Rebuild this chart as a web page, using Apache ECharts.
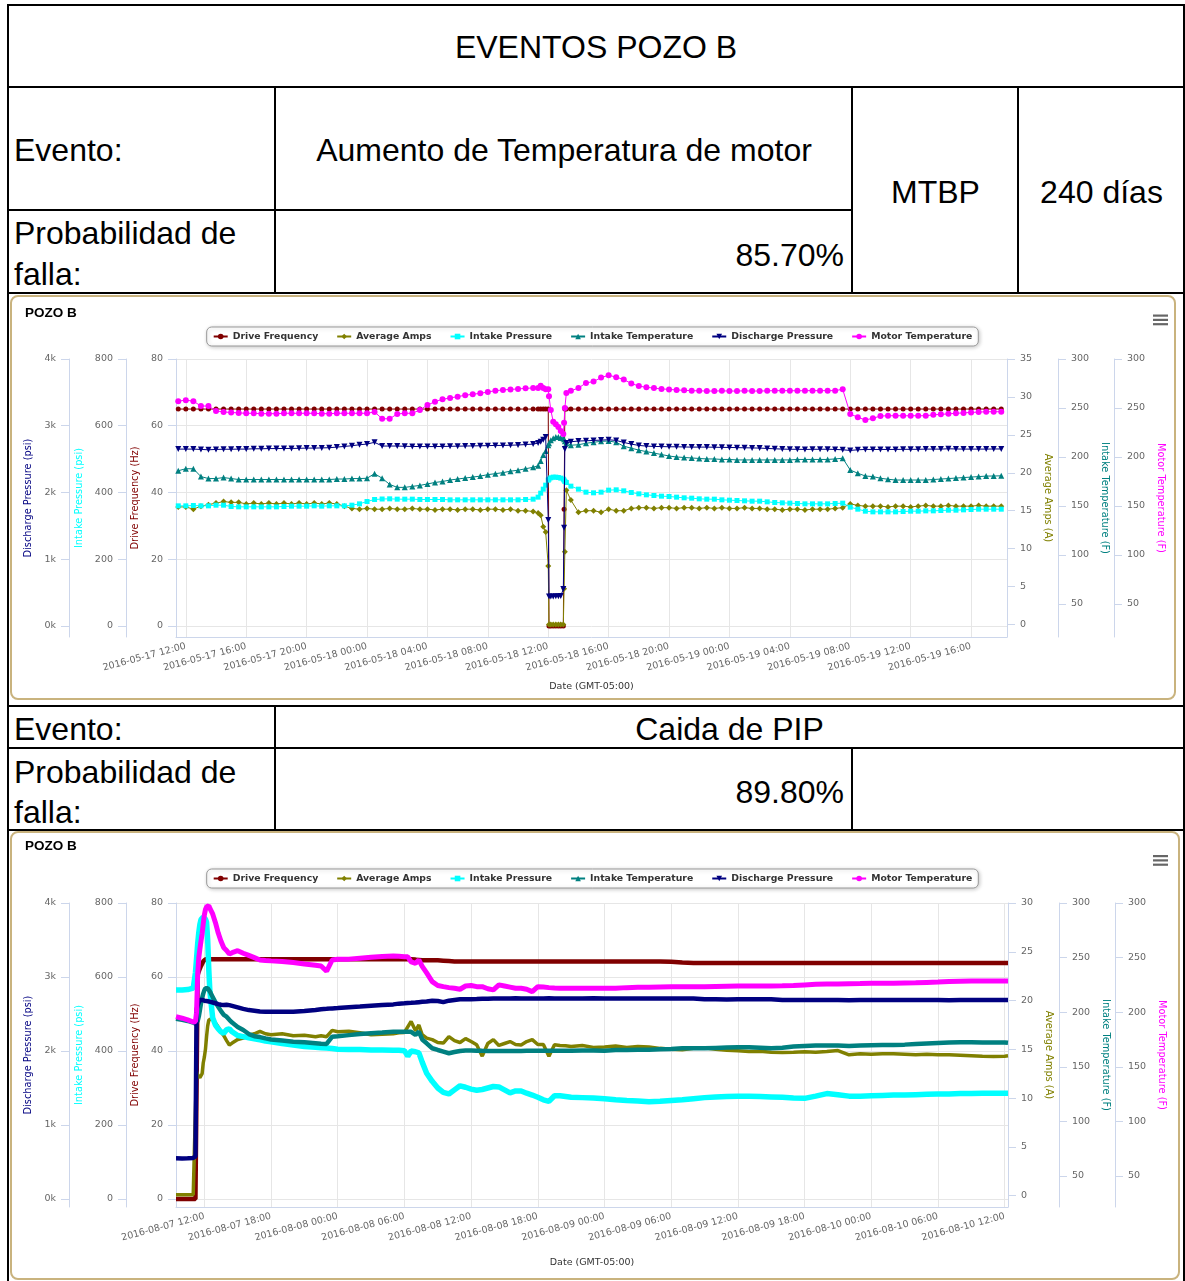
<!DOCTYPE html>
<html>
<head>
<meta charset="utf-8">
<title>Eventos Pozo B</title>
<script src="https://cdn.jsdelivr.net/npm/echarts@6/dist/echarts.min.js"></script>
<style>
  body { margin: 0; background: #fff; }
  #page { position: relative; width: 1185px; height: 1281px; overflow: hidden;
          font-family: "Liberation Sans", Arial, sans-serif; color: #000; background: #fff; }
  .r { position: absolute; background: #000; }
  .t { position: absolute; font-size: 32px; line-height: 32px; white-space: nowrap; }
  .frame { position: absolute; border: 2px solid #c9b37e; border-radius: 8px; box-sizing: border-box; }
  .chart { position: absolute; left: 0; width: 1185px; }
</style>
</head>
<body>
<div id="page">
  <!-- table rules -->
  <div class="r" style="left:7px;top:4px;width:1178px;height:2px"></div>
  <div class="r" style="left:7px;top:86px;width:1178px;height:2px"></div>
  <div class="r" style="left:7px;top:209px;width:846px;height:2px"></div>
  <div class="r" style="left:7px;top:292px;width:1178px;height:2px"></div>
  <div class="r" style="left:7px;top:705px;width:1178px;height:2px"></div>
  <div class="r" style="left:7px;top:747px;width:1178px;height:2px"></div>
  <div class="r" style="left:7px;top:829px;width:1178px;height:2px"></div>
  <div class="r" style="left:7px;top:4px;width:2px;height:1277px"></div>
  <div class="r" style="left:1183px;top:4px;width:2px;height:1277px"></div>
  <div class="r" style="left:274px;top:86px;width:2px;height:208px"></div>
  <div class="r" style="left:851px;top:86px;width:2px;height:208px"></div>
  <div class="r" style="left:1017px;top:86px;width:2px;height:208px"></div>
  <div class="r" style="left:274px;top:705px;width:2px;height:126px"></div>
  <div class="r" style="left:851px;top:747px;width:2px;height:84px"></div>

  <!-- table text -->
  <div class="t" style="left:7px;width:1178px;top:31px;text-align:center">EVENTOS POZO B</div>
  <div class="t" style="left:14px;top:134px">Evento:</div>
  <div class="t" style="left:276px;width:576px;top:134px;text-align:center">Aumento de Temperatura de motor</div>
  <div class="t" style="left:853px;width:165px;top:176px;text-align:center">MTBP</div>
  <div class="t" style="left:1019px;width:165px;top:176px;text-align:center">240 días</div>
  <div class="t" style="left:14px;top:217px">Probabilidad de</div>
  <div class="t" style="left:14px;top:258px">falla:</div>
  <div class="t" style="left:276px;width:568px;top:239px;text-align:right">85.70%</div>
  <div class="t" style="left:14px;top:713px">Evento:</div>
  <div class="t" style="left:276px;width:907px;top:713px;text-align:center">Caida de PIP</div>
  <div class="t" style="left:14px;top:756px">Probabilidad de</div>
  <div class="t" style="left:14px;top:796px">falla:</div>
  <div class="t" style="left:276px;width:568px;top:776px;text-align:right">89.80%</div>

  <!-- chart frames and chart hosts -->
  <div class="frame" style="left:10px;top:295px;width:1166px;height:405px"></div>
  <div class="chart" id="c1" style="top:296px;height:408px"></div>
  <div class="frame" style="left:10px;top:831px;width:1170px;height:449px"></div>
  <div class="chart" id="c2" style="top:832px;height:449px"></div>
</div>
<script>
// ---------- shared series definitions ----------
const SERIES_NAMES = ['Drive Frequency', 'Average Amps', 'Intake Pressure',
                      'Intake Temperature', 'Discharge Pressure', 'Motor Temperature'];
const SERIES_COLORS = ['#800000', '#808000', '#00ffff', '#008080', '#000080', '#ff00ff'];
const SERIES_SYMBOLS = ['circle', 'diamond', 'rect', 'triangle', 'path://M0,0L10,0L5,10Z', 'circle'];

// tick labels shared by both charts
const TICKS_DISCHARGE = [0, 1000, 2000, 3000, 4000];
const TICKS_INTAKE_P = [0, 200, 400, 600, 800];
const TICKS_FREQ = [0, 20, 40, 60, 80];
const TICKS_AMPS_1 = [0, 5, 10, 15, 20, 25, 30, 35];
const TICKS_AMPS_2 = [0, 5, 10, 15, 20, 25, 30];
const TICKS_TEMP = [50, 100, 150, 200, 250, 300];

// ---------- Event 1: hours counted from 2016-05-17 00:00 ----------
const TIME_1 = [
  11.5, 12, 12.5, 13, 13.5, 14, 14.5, 15, 15.5, 16, 16.5, 17,
  17.5, 18, 18.5, 19, 19.5, 20, 20.5, 21, 21.5, 22, 22.5, 23,
  23.5, 24, 24.5, 25, 25.5, 26, 26.5, 27, 27.5, 28, 28.5, 29,
  29.5, 30, 30.5, 31, 31.5, 32, 32.5, 33, 33.5, 34, 34.5, 35,
  35.33, 35.5, 35.67, 35.83, 36, 36.05, 36.17, 36.33, 36.5, 36.67, 36.83, 37, 37.05, 37.1, 37.2,
  37.5, 38, 38.5, 39, 39.5, 40, 40.5, 41, 41.5, 42, 42.5, 43,
  43.5, 44, 44.5, 45, 45.5, 46, 46.5, 47, 47.5, 48, 48.5, 49,
  49.5, 50, 50.5, 51, 51.5, 52, 52.5, 53, 53.5, 54, 54.5, 55,
  55.5, 56, 56.5, 57, 57.5, 58, 58.5, 59, 59.5, 60, 60.5, 61,
  61.5, 62, 62.5, 63, 63.5, 64, 64.5, 65, 65.5, 66
];
const DRIVE_FREQ_1 = [
  65, 65, 65, 65, 65, 65, 65, 65, 65, 65, 65, 65,
  65, 65, 65, 65, 65, 65, 65, 65, 65, 65, 65, 65,
  65, 65, 65, 65, 65, 65, 65, 65, 65, 65, 65, 65,
  65, 65, 65, 65, 65, 65, 65, 65, 65, 65, 65, 65,
  65, 65, 65, 65, 65, 0, 0, 0, 0, 0, 0, 0, 35, 65, 65,
  65, 65, 65, 65, 65, 65, 65, 65, 65, 65, 65, 65,
  65, 65, 65, 65, 65, 65, 65, 65, 65, 65, 65, 65,
  65, 65, 65, 65, 65, 65, 65, 65, 65, 65, 65, 65,
  65, 65, 65, 65, 65, 65, 65, 65, 65, 65, 65, 65,
  65, 65, 65, 65, 65, 65, 65, 65, 65, 65
];
const AVG_AMPS_1 = [
  15.5, 15.5, 15.2, 15.6, 15.8, 16.0, 16.2, 16.1, 16.1, 15.9, 16.0, 15.9,
  16.0, 15.9, 16.0, 15.9, 16.0, 15.9, 16.0, 15.9, 16.0, 15.9, 15.6, 15.3,
  15.2, 15.3, 15.2, 15.2, 15.3, 15.2, 15.2, 15.3, 15.2, 15.2, 15.1, 15.2,
  15.2, 15.1, 15.2, 15.2, 15.1, 15.2, 15.2, 15.1, 15.2, 15.0, 15.0, 14.9,
  14.7, 14.4, 12.9, 12.2, 7.7, 0, 0, 0, 0, 0, 0, 0, 4.7, 9.6, 17.7,
  16.4, 14.8, 15.0, 15.0, 14.8, 15.2, 15.0, 15.0, 15.3, 15.4, 15.4, 15.3,
  15.4, 15.4, 15.3, 15.4, 15.4, 15.3, 15.4, 15.3, 15.4, 15.3, 15.3, 15.4,
  15.3, 15.3, 15.2, 15.2, 15.1, 15.2, 15.2, 15.1, 15.2, 15.2, 15.2, 15.3,
  15.4, 15.9, 15.7, 15.6, 15.6, 15.6, 15.5, 15.6, 15.6, 15.5, 15.6, 15.7,
  15.6, 15.6, 15.7, 15.6, 15.6, 15.6, 15.7, 15.6, 15.6, 15.6
];
const INTAKE_PRESSURE_1 = [
  360, 360, 361, 360, 360, 362, 362, 358, 357, 357, 357, 357,
  357, 357, 358, 359, 359, 359, 360, 359, 360, 360, 360, 362,
  366, 373, 379, 380.5, 381, 380, 380, 380, 379, 379, 379, 379,
  378, 378, 378, 378, 378, 378, 378, 378, 378, 378, 379, 380,
  386, 398, 410, 422, 437, 440, 444, 446, 446, 445, 443, 440, 437, 433, 430,
  419, 410, 401, 399, 401, 407, 408, 405, 400, 396, 393, 391,
  389, 388, 386, 384, 383, 381, 380, 380, 378, 377, 376, 375,
  374, 374, 372, 370, 369, 368, 367, 366, 366, 366, 366, 367,
  368, 356, 350, 344, 342, 342, 342, 342, 343, 344, 344, 345,
  345, 346, 347, 347, 348, 349, 350, 350, 350, 350
];
const INTAKE_TEMP_1 = [
  186, 188, 188, 180, 178, 178, 179, 178, 177, 177, 177, 177,
  177, 177, 177, 177, 177, 177, 177, 177, 177, 177.5, 177.5, 178,
  178, 178.3, 183, 178.3, 172, 169, 169, 170, 171, 172.5, 174, 175,
  176.5, 177.5, 178.5, 179.5, 180.5, 182, 183, 184, 185.5, 186.5, 188, 189.5,
  191, 196, 202, 206, 212, 214, 217, 219, 220.4, 220.4, 219.5, 219, 218, 216, 214,
  212, 212.5, 214, 215, 216, 216.3, 215, 211, 209, 207, 205.5, 204,
  202.5, 201, 200, 199.5, 199, 198.5, 198, 198, 197.5, 197.5, 197, 197,
  197, 197, 197, 197, 197, 197, 197.5, 197.5, 197.5, 197.5, 197.5, 198,
  198.7, 186.7, 183.4, 180.6, 180, 178.3, 177.3, 176.5, 176.5, 176.5, 176.5, 176.5,
  177, 177.5, 178, 178.5, 179, 179.5, 180, 180.5, 180.6, 180.8
];
const DISCHARGE_PRESSURE_1 = [
  2650, 2650, 2650, 2645, 2640, 2645, 2648, 2648, 2650, 2650, 2655, 2655,
  2658, 2658, 2660, 2660, 2662, 2665, 2665, 2668, 2671, 2680, 2690, 2701,
  2715, 2726, 2752, 2696, 2696, 2696, 2692, 2690, 2688, 2688, 2688, 2690,
  2692, 2694, 2696, 2698, 2700, 2702, 2705, 2705, 2708, 2712, 2718, 2725,
  2740, 2760, 2790, 2831, 1588, 440, 440, 443, 445, 447, 449, 554, 1473, 2650, 2740,
  2760, 2771, 2775, 2780, 2785, 2790, 2780, 2750, 2725, 2705, 2695, 2690,
  2688, 2685, 2685, 2682, 2680, 2680, 2680, 2678, 2676, 2675, 2672, 2670,
  2668, 2665, 2660, 2655, 2650, 2648, 2647, 2645, 2647, 2648, 2648, 2645,
  2640, 2630, 2640, 2645, 2645, 2645, 2645, 2645, 2647, 2647, 2647, 2650,
  2650, 2650, 2655, 2652, 2650, 2650, 2650, 2650, 2652, 2652
];
const MOTOR_TEMP_1 = [
  257, 258, 257, 252, 252, 247, 246, 245.4, 245, 244.6, 244.6, 244.2,
  244.2, 244.2, 244.6, 244.6, 244.6, 244.6, 244.6, 244.2, 244.2, 244.6, 244.6, 244.6,
  244.6, 244.6, 246, 239, 239, 243.9, 244.6, 244.6, 248, 253, 256.4, 258.9,
  260.2, 261.6, 263, 264, 265, 266.3, 267.7, 268.4, 269, 269.4, 270.1, 270.4,
  270.4, 272.8, 270.5, 269.1, 269.1, 262, 248, 236, 233.5, 230.6, 226.5, 223.5, 235, 250, 265.3,
  267.5, 270.4, 275.5, 277, 281, 283.4, 281.5, 279, 275, 272.4, 271.1, 270.3,
  269.5, 269, 268.4, 268, 267.7, 267.5, 267.3, 267.3, 267.5, 267.3, 267.3, 267.5,
  267.3, 267.3, 267.5, 267.7, 267.7, 267.7, 267.5, 267.7, 267.7, 267.7, 267.7, 267.7,
  269.1, 243.9, 240.5, 237.8, 239.5, 241.8, 242.1, 242.1, 242.1, 242.1, 242.1, 242.1,
  243, 243.5, 244, 244.6, 245, 245.5, 245.8, 246.2, 246.2, 246.2
];
const DATE_TICKS_1 = [12, 16, 20, 24, 28, 32, 36, 40, 44, 48, 52, 56, 60, 64];

// ---------- Event 2: hours counted from 2016-08-07 00:00 ----------
const TIME_2 = [
  9.45, 10, 10.5, 11, 11.2,
  11.3, 11.4, 11.5, 11.6, 11.7, 11.8, 11.9, 12, 12.1, 12.2, 12.3, 12.4, 12.5,
  12.75, 13, 13.25, 13.5, 13.75, 14, 14.25, 14.5,
  15, 15.5, 16, 16.5, 17, 17.5, 18,
  19, 20, 21, 22,
  22.5, 23, 23.5, 24,
  25, 26, 27, 28, 29,
  29.5, 30, 30.3, 30.6, 31, 31.3, 31.6, 32,
  32.5, 33, 33.5, 34, 34.5, 35, 35.5, 36, 36.5, 37,
  37.5, 38, 38.5, 39, 39.5, 40, 40.5, 41, 41.5, 42,
  42.5, 43, 43.5, 44, 44.5, 45,
  46, 47, 48, 49, 50, 51, 52, 53, 54, 55,
  56, 57, 58, 59, 60, 61, 62, 63, 64, 65,
  66, 67, 68, 69, 70, 71, 72, 73, 74, 75,
  76, 77, 78, 79, 80, 81, 82, 83, 84,
  84.3
];
const DRIVE_FREQ_2 = [
  0, 0, 0, 0, 0,
  0, 60.5, 61.5, 62.3, 63, 63.6, 64.2, 64.6, 64.8, 64.8, 64.8, 64.8, 64.8,
  64.8, 64.8, 64.8, 64.8, 64.8, 64.8, 64.8, 64.8,
  64.8, 64.8, 64.8, 64.8, 64.8, 64.8, 64.8,
  64.8, 64.8, 64.8, 64.8,
  64.8, 64.8, 64.8, 64.8,
  64.8, 64.8, 64.8, 64.8, 64.8,
  64.8, 64.8, 64.8, 64.8, 64.7, 64.6, 64.5, 64.5,
  64.5, 64.5, 64.4, 64.3, 64.2, 64.2, 64.2, 64.2, 64.2, 64.2,
  64.2, 64.2, 64.2, 64.2, 64.2, 64.2, 64.2, 64.2, 64.2, 64.2,
  64.2, 64.2, 64.2, 64.2, 64.2, 64.2,
  64.2, 64.2, 64.2, 64.2, 64.2, 64.2, 64.2, 64.2, 64.1, 63.9,
  63.8, 63.8, 63.8, 63.8, 63.8, 63.8, 63.8, 63.8, 63.8, 63.8,
  63.8, 63.8, 63.8, 63.8, 63.8, 63.8, 63.8, 63.8, 63.8, 63.8,
  63.8, 63.8, 63.8, 63.8, 63.8, 63.8, 63.8, 63.8, 63.8,
  63.8
];
const AVG_AMPS_2 = [
  0.1, 0.1, 0.1, 0.1, 8.8,
  12.7, 12.4, 12.2, 12.1, 12.05, 12.5, 13.6, 14.2, 15.0, 16.3, 17.4, 18.0, 18.1,
  18.2, 17.7, 17.3, 16.8, 16.4, 15.9, 15.45, 15.64,
  16.0, 16.15, 16.45, 16.6, 16.85, 16.6, 16.5,
  16.6, 16.4, 16.45, 16.3,
  16.4, 16.3, 16.94, 16.8,
  16.85, 16.7, 16.5, 16.55, 16.6,
  16.7, 16.73, 17.3, 17.86, 16.9, 17.5, 16.5, 16.15,
  16.0, 15.7, 15.64, 16.3, 15.9, 15.7, 16.1, 15.8, 15.47, 14.3,
  15.6, 16.0, 15.4, 15.6, 15.8, 15.5, 15.45, 15.8, 16.0, 15.5,
  15.5, 14.3, 15.47, 15.4, 15.36, 15.3,
  15.4, 15.2, 15.25, 15.35, 15.2, 15.3, 15.25, 15.1, 15.0, 14.95,
  15.1, 15.15, 15.0, 14.9, 14.85, 14.78, 14.8, 14.7, 14.68, 14.7,
  14.75, 14.7, 14.78, 14.88, 14.44, 14.55, 14.5, 14.55, 14.54, 14.5,
  14.45, 14.5, 14.45, 14.44, 14.4, 14.35, 14.3, 14.27, 14.3,
  14.34
];
const INTAKE_PRESSURE_2 = [
  565, 565, 566, 570, 612,
  650, 690, 720, 742, 755, 760, 762, 760, 756, 748, 700, 620, 560,
  490, 470, 460, 452, 448, 458, 460, 452,
  442, 439, 436, 433, 430, 427, 425,
  420, 416, 412, 410,
  409, 408, 407, 405,
  404, 404, 403, 403, 402,
  402, 401, 386, 400, 398, 395, 370, 340,
  318, 300, 288, 284, 295, 306, 302, 297, 294, 296,
  300, 304, 303, 295, 287, 292, 292, 286, 281, 275,
  268, 264, 279, 279, 277, 275,
  274, 273, 271, 268, 266, 265, 263, 264, 266, 268,
  271, 274, 276, 277, 278, 278, 277, 276, 275, 273,
  272, 278, 285, 282, 278, 278, 279, 280, 281, 281,
  282, 283, 284, 284, 285, 285, 286, 286, 286,
  286
];
const INTAKE_TEMP_2 = [
  194, 193, 192, 190.5, 189.5,
  190, 192, 196, 202, 208, 213, 217, 220, 222, 222.5, 222, 221, 219,
  214, 209, 205, 201, 197.5, 195.9, 193, 190.5,
  186.5, 183.7, 180, 178, 177.2, 176, 175,
  174, 173, 172.5, 171.5,
  171, 170.9, 177.6, 178,
  179, 180, 180.7, 181.3, 182,
  182.2, 182.2, 182, 182, 179.2, 182.2, 175, 171.5,
  167, 165.4, 163.9, 162.4, 163.5, 164.5, 165, 165, 164.8, 164.6,
  164.5, 164.4, 164.4, 164.4, 164.4, 164.5, 164.5, 164.6, 164.6, 164.8,
  164.8, 164.8, 164.8, 164.8, 164.8, 164.8,
  165, 165, 164.8, 165.4, 165.4, 165.6, 165.6, 166, 166.4, 167,
  167, 167, 167.3, 167.6, 167.9, 167.9, 167.5, 167, 167.5, 168.5,
  169, 169.4, 169.4, 169.4, 169, 169.4, 169.8, 170, 170, 170.3,
  170.8, 171.3, 171.8, 172.2, 172.5, 172.5, 172.3, 172.3, 172.3,
  172
];
const DISCHARGE_PRESSURE_2 = [
  550, 548, 550, 555, 575,
  2560, 2620, 2660, 2688, 2700, 2690, 2688, 2680, 2680, 2675, 2670, 2670, 2665,
  2655, 2645, 2634, 2625, 2621, 2625, 2620, 2610,
  2590, 2570, 2553, 2545, 2535, 2530, 2530,
  2530, 2532, 2540, 2555,
  2565, 2570, 2576, 2580,
  2590, 2600, 2612, 2621, 2630,
  2640, 2645, 2650, 2652, 2655, 2660, 2665, 2670,
  2680, 2675, 2660, 2680, 2690, 2698, 2700, 2700, 2702, 2705,
  2706, 2711, 2711, 2709, 2711, 2713, 2711, 2711, 2709, 2711,
  2711, 2713, 2711, 2711, 2709, 2711,
  2711, 2712, 2711, 2711, 2710, 2711, 2711, 2711, 2711, 2711,
  2711, 2698, 2698, 2696, 2698, 2698, 2700, 2698, 2688, 2688,
  2688, 2690, 2688, 2688, 2686, 2688, 2688, 2688, 2690, 2688,
  2688, 2688, 2688, 2686, 2688, 2688, 2688, 2688, 2688,
  2688
];
const MOTOR_TEMP_2 = [
  195.9, 194.5, 193, 191, 191.5,
  200, 235, 250, 258, 265, 272, 281, 289, 294, 296.5, 298, 297.5, 295,
  290, 282, 272.5, 265, 259, 256.5, 253.3, 254.5,
  256.3, 254, 252, 250, 247.8, 247.3, 247,
  246.5, 245.5, 244.2, 243,
  242.3, 237.5, 247.8, 248.5,
  248.6, 249.5, 250.3, 251, 251.5,
  251.2, 250.8, 250.8, 246, 244.8, 247.8, 242, 236,
  228, 224.5, 223.4, 222.5, 221.9, 221, 224, 224.5, 223.4, 223.4,
  221.5, 220.4, 225, 224, 223, 221.9, 221.9, 221, 218.8, 223.4,
  223, 222.5, 222.2, 222, 222, 222,
  222, 222, 221.9, 222, 222.5, 222.8, 222.8, 223, 223.2, 223.4,
  223.4, 223.4, 223.6, 223.8, 224, 224, 224, 224, 224.2, 224.5,
  225, 225.5, 225.8, 225.8, 226, 226.2, 226.5, 226.5, 226.5, 226.8,
  227, 227.3, 227.6, 228, 228.3, 228.6, 228.6, 228.6, 228.6,
  228.6
];
const DATE_TICKS_2 = [12, 18, 24, 30, 36, 42, 48, 54, 60, 66, 72, 78, 84];

// ---------- styling ----------
const FONT = '"DejaVu Sans", Verdana, sans-serif';
const AXIS_LINE = '#ccd6eb';
const GRID_LINE = '#e6e6e6';
const LABEL_COLOR = '#666666';

function pad2(n) { return String(n).padStart(2, '0'); }
function dateFormatter(prefix, day0) {
  return function (h) {
    const d = Math.floor(h / 24);
    const hh = Math.round(h - d * 24);
    return prefix + pad2(day0 + d) + ' ' + pad2(hh) + ':00';
  };
}

function yAxis(o) {
  return {
    type: 'value',
    position: o.side,
    offset: o.offset,
    min: o.min,
    max: o.max,
    name: o.name,
    nameLocation: 'middle',
    nameGap: o.gap,
    nameRotate: o.side === 'left' ? 90 : -90,
    nameTextStyle: { color: o.color, fontSize: 9.8, fontFamily: FONT },
    axisLine: { show: true, onZero: false, lineStyle: { color: AXIS_LINE, width: 1 } },
    axisTick: { show: true, length: 8, customValues: o.ticks, lineStyle: { color: AXIS_LINE, width: 1 } },
    axisLabel: { customValues: o.ticks, margin: 13, color: LABEL_COLOR, fontSize: 9.5,
                 fontFamily: FONT, formatter: o.fmt || (v => String(v)) },
    splitLine: { show: !!o.grid, lineStyle: { color: GRID_LINE, width: 1 } }
  };
}

function buildChart(el, c) {
  const chart = echarts.init(el);
  const values = [c.freq, c.amps, c.intakeP, c.intakeT, c.disch, c.motor];
  const axisIndex = [2, 3, 1, 4, 0, 5];
  const series = SERIES_NAMES.map((name, i) => ({
    type: 'line',
    name: name,
    yAxisIndex: axisIndex[i],
    data: c.time.map((t, k) => [t, values[i][k]]),
    symbol: SERIES_SYMBOLS[i],
    symbolSize: c.dense ? 0 : c.symbolSizes[i],
    symbolKeepAspect: true,
    showSymbol: !c.dense,
    lineStyle: { width: c.lineWidths[i], color: SERIES_COLORS[i] },
    itemStyle: { color: SERIES_COLORS[i] },
    emphasis: { disabled: true },
    animation: false,
    z: 2 + i
  }));

  const menuLines = [0, 1, 2].map(k => ({
    type: 'rect',
    shape: { x: 1153, y: c.menuTop + k * 4.3, width: 15, height: 2.2 },
    style: { fill: '#666666' },
    silent: true
  }));

  chart.setOption({
    animation: false,
    backgroundColor: 'transparent',
    title: {
      text: 'POZO B', left: 25, top: c.titleTop, padding: 0,
      textStyle: { fontFamily: '"Liberation Sans", Arial, sans-serif', fontWeight: 'bold',
                   fontSize: 13.5, color: '#000000' }
    },
    legend: {
      data: SERIES_NAMES, top: c.legendTop, left: 'center', selectedMode: false,
      itemWidth: 14, itemHeight: 7, itemGap: 18,
      padding: [5, 6, 5, 6],
      borderColor: '#999999', borderWidth: 1, borderRadius: 5,
      backgroundColor: '#ffffff',
      shadowBlur: 4, shadowColor: 'rgba(0,0,0,0.22)', shadowOffsetX: 1, shadowOffsetY: 1,
      lineStyle: { width: 2 },
      textStyle: { color: '#333333', fontWeight: 'bold', fontSize: 9.3, fontFamily: FONT }
    },
    graphic: menuLines,
    grid: { left: 176, right: c.gridRight, top: c.gridTop, bottom: c.gridBottom, containLabel: false },
    xAxis: {
      type: 'value', min: c.xMin, max: c.xMax,
      name: 'Date (GMT-05:00)', nameLocation: 'middle', nameGap: c.xNameGap,
      nameTextStyle: { color: '#333333', fontSize: 9.5, fontFamily: FONT },
      axisLine: { show: true, onZero: false, lineStyle: { color: AXIS_LINE, width: 1 } },
      axisTick: { show: false, customValues: c.dateTicks },
      axisLabel: { customValues: c.dateTicks, rotate: 15, margin: 9, color: LABEL_COLOR,
                   fontSize: 9.5, fontFamily: FONT, formatter: c.dateFmt },
      splitLine: { show: true, lineStyle: { color: GRID_LINE, width: 1 } }
    },
    yAxis: [
      yAxis({ name: 'Discharge Pressure (psi)', side: 'left', offset: 107, gap: 28, color: '#000080',
              min: c.yr.disch[0], max: c.yr.disch[1], ticks: TICKS_DISCHARGE, fmt: v => (v / 1000) + 'k' }),
      yAxis({ name: 'Intake Pressure (psi)', side: 'left', offset: 50, gap: 35, color: '#00ffff',
              min: c.yr.intakeP[0], max: c.yr.intakeP[1], ticks: TICKS_INTAKE_P }),
      yAxis({ name: 'Drive Frequency (Hz)', side: 'left', offset: 0, gap: 29, color: '#800000',
              min: c.yr.freq[0], max: c.yr.freq[1], ticks: TICKS_FREQ, grid: true }),
      yAxis({ name: 'Average Amps (A)', side: 'right', offset: 0, gap: 31, color: '#808000',
              min: c.yr.amps[0], max: c.yr.amps[1], ticks: c.ampsTicks }),
      yAxis({ name: 'Intake Temperature (F)', side: 'right', offset: c.tempOffset, gap: 36, color: '#008080',
              min: c.yr.temp[0], max: c.yr.temp[1], ticks: TICKS_TEMP }),
      yAxis({ name: 'Motor Temperature (F)', side: 'right', offset: 107, gap: 36, color: '#ff00ff',
              min: c.yr.temp[0], max: c.yr.temp[1], ticks: TICKS_TEMP })
    ],
    series: series
  });
  return chart;
}

buildChart(document.getElementById('c1'), {
  time: TIME_1,
  freq: DRIVE_FREQ_1, amps: AVG_AMPS_1, intakeP: INTAKE_PRESSURE_1,
  intakeT: INTAKE_TEMP_1, disch: DISCHARGE_PRESSURE_1, motor: MOTOR_TEMP_1,
  dense: false,
  symbolSizes: [5, 6, 5, 6, 6, 6],
  lineWidths: [1, 1, 1, 1, 1, 1],
  titleTop: 10, legendTop: 31, menuTop: 18.5,
  gridTop: 63, gridBottom: 67, gridRight: 178,
  xMin: 11.35, xMax: 66.38, xNameGap: 45,
  dateTicks: DATE_TICKS_1, dateFmt: dateFormatter('2016-05-', 17),
  ampsTicks: TICKS_AMPS_1, tempOffset: 51,
  yr: { freq: [-3.3, 80], disch: [-165, 4000], intakeP: [-33, 800], amps: [-1.65, 35], temp: [16.3, 300] }
});

buildChart(document.getElementById('c2'), {
  time: TIME_2,
  freq: DRIVE_FREQ_2, amps: AVG_AMPS_2, intakeP: INTAKE_PRESSURE_2,
  intakeT: INTAKE_TEMP_2, disch: DISCHARGE_PRESSURE_2, motor: MOTOR_TEMP_2,
  dense: true,
  symbolSizes: [0, 0, 0, 0, 0, 0],
  lineWidths: [4.5, 3.5, 5.5, 4.5, 4.5, 5],
  titleTop: 7, legendTop: 37, menuTop: 23,
  gridTop: 71, gridBottom: 74, gridRight: 177,
  xMin: 9.45, xMax: 84.3, xNameGap: 51,
  dateTicks: DATE_TICKS_2, dateFmt: dateFormatter('2016-08-', 7),
  ampsTicks: TICKS_AMPS_2, tempOffset: 51,
  yr: { freq: [-2.16, 80], disch: [-108, 4000], intakeP: [-21.6, 800], amps: [-1.16, 30], temp: [21.6, 300] }
});
</script>
</body>
</html>
